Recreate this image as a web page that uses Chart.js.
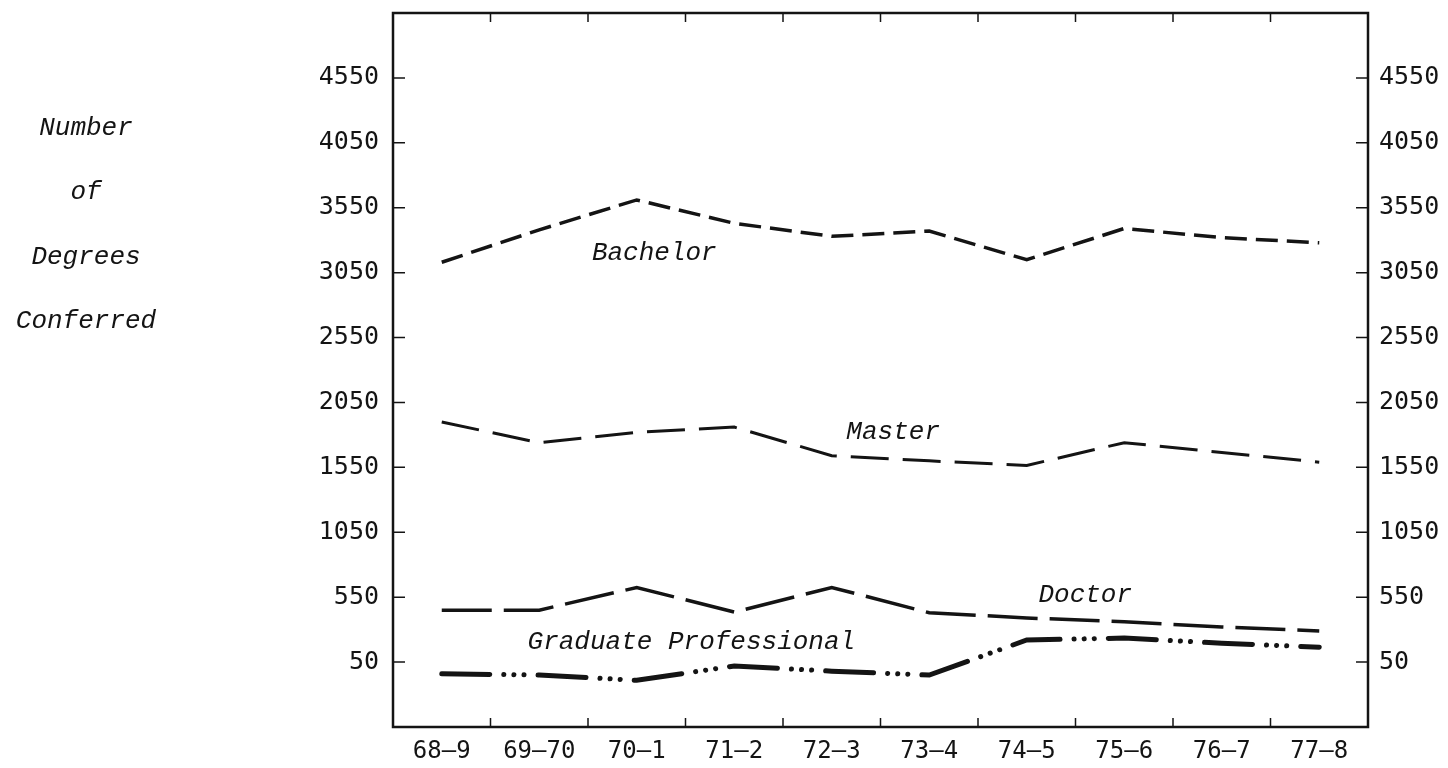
<!DOCTYPE html>
<html>
<head>
<meta charset="utf-8">
<script src="https://cdn.jsdelivr.net/npm/chart.js@4/dist/chart.umd.min.js"></script>
<style>
  html, body { margin: 0; padding: 0; background: #fff; }
  #wrap { width: 1448px; height: 768px; }
</style>
</head>
<body>
<div id="wrap"><canvas id="degreesChart" width="1448" height="768"></canvas></div>
<script>
// Academic years on the x axis
const years = ['68–9', '69–70', '70–1', '71–2', '72–3', '73–4', '74–5', '75–6', '76–7', '77–8'];

// Degrees conferred
const bachelor = [3130, 3380, 3610, 3430, 3330, 3370, 3150, 3390, 3320, 3280];
const master = [1900, 1740, 1820, 1860, 1640, 1600, 1565, 1740, 1665, 1590];
const doctor = [450, 450, 625, 435, 625, 430, 390, 360, 320, 290];
const gradProfessional = [-40, -50, -90, 20, -20, -50, 220, 235, 195, 165];

// Tick values shown on both y axes
const yTicks = [50, 550, 1050, 1550, 2050, 2550, 3050, 3550, 4050, 4550];

// Series captions: text, category position, value position
const captionText = ['Bachelor', 'Master', 'Doctor', 'Graduate Professional'];
const captionAt = [[2.18, 3200], [4.63, 1820], [6.6, 565], [2.56, 205]];

const yTitle = ['Number', 'of', 'Degrees', 'Conferred'];

const INK = '#141414';
const xTickFont = { family: '"DejaVu Sans Mono", monospace', size: 24 };
const yTickFont = { family: '"DejaVu Sans Mono", monospace', size: 25 };
const italicFont = 'italic 26px "Liberation Mono", "Courier New", monospace';

// Frame, inward tick marks and the hand-lettered captions
const typedLabels = {
    id: 'typedLabels',
    afterDraw(chart) {
        const { ctx, chartArea: a, scales } = chart;
        const x = scales.x, y = scales.y;
        ctx.save();
        ctx.strokeStyle = INK;
        ctx.lineWidth = 2.5;
        ctx.strokeRect(a.left, a.top, a.right - a.left, a.bottom - a.top);

        ctx.lineWidth = 1.5;
        ctx.beginPath();
        yTicks.forEach(v => {
            const py = y.getPixelForValue(v);
            ctx.moveTo(a.left, py); ctx.lineTo(a.left + 12, py);
            ctx.moveTo(a.right - 12, py); ctx.lineTo(a.right, py);
        });
        for (let i = 0; i < years.length - 1; i++) {
            const px = (x.getPixelForValue(i) + x.getPixelForValue(i + 1)) / 2;
            ctx.moveTo(px, a.bottom); ctx.lineTo(px, a.bottom - 9);
            ctx.moveTo(px, a.top); ctx.lineTo(px, a.top + 9);
        }
        ctx.stroke();

        ctx.fillStyle = INK;
        ctx.font = italicFont;
        ctx.textAlign = 'center';
        ctx.textBaseline = 'middle';
        captionText.forEach((t, i) => {
            const [ci, v] = captionAt[i];
            const px = x.getPixelForValue(0) + ci * (x.getPixelForValue(1) - x.getPixelForValue(0));
            ctx.fillText(t, px, y.getPixelForValue(v));
        });

        yTitle.forEach((t, i) => {
            ctx.fillText(t, 86, 128 + i * 64.5);
        });
        ctx.restore();
    }
};

const baseLine = {
    borderColor: INK,
    fill: false,
    tension: 0,
    pointRadius: 0,
    borderCapStyle: 'butt'
};

function noPad(scale) {
    scale.paddingTop = 0;
    scale.paddingBottom = 0;
}

new Chart(document.getElementById('degreesChart'), {
    type: 'line',
    data: {
        labels: years,
        datasets: [
            { ...baseLine, label: 'Bachelor', data: bachelor, borderWidth: 3.5, borderDash: [22, 9] },
            { ...baseLine, label: 'Master', data: master, borderWidth: 3, borderDash: [38, 14] },
            { ...baseLine, label: 'Doctor', data: doctor, borderWidth: 3.5, borderDash: [50, 12] },
            { ...baseLine, label: 'Graduate Professional', data: gradProfessional, borderWidth: 5,
              borderCapStyle: 'round', borderDash: [48, 14, 0.1, 10, 0.1, 10, 0.1, 14] }
        ]
    },
    options: {
        responsive: false,
        animation: false,
        layout: { padding: { top: 13, left: 0, right: 0, bottom: 0 } },
        plugins: {
            legend: { display: false },
            tooltip: { enabled: false }
        },
        scales: {
            x: {
                type: 'category',
                offset: true,
                grid: { display: false, drawTicks: false },
                border: { display: false },
                ticks: { color: INK, font: xTickFont, padding: 10, maxRotation: 0, autoSkip: false },
                afterFit(scale) { scale.height = 41; }
            },
            y: {
                position: 'left',
                min: -450,
                max: 5050,
                afterBuildTicks(scale) { scale.ticks = yTicks.map(v => ({ value: v })); },
                grid: { display: false, drawTicks: false },
                border: { display: false },
                ticks: { color: INK, font: yTickFont, padding: 14, callback: v => String(v) },
                afterFit(scale) { scale.width = 393; noPad(scale); }
            },
            y2: {
                position: 'right',
                min: -450,
                max: 5050,
                afterBuildTicks(scale) { scale.ticks = yTicks.map(v => ({ value: v })); },
                grid: { display: false, drawTicks: false },
                border: { display: false },
                ticks: { color: INK, font: yTickFont, padding: 11, callback: v => String(v) },
                afterFit(scale) { scale.width = 80; noPad(scale); }
            }
        }
    },
    plugins: [typedLabels]
});
</script>
</body>
</html>
